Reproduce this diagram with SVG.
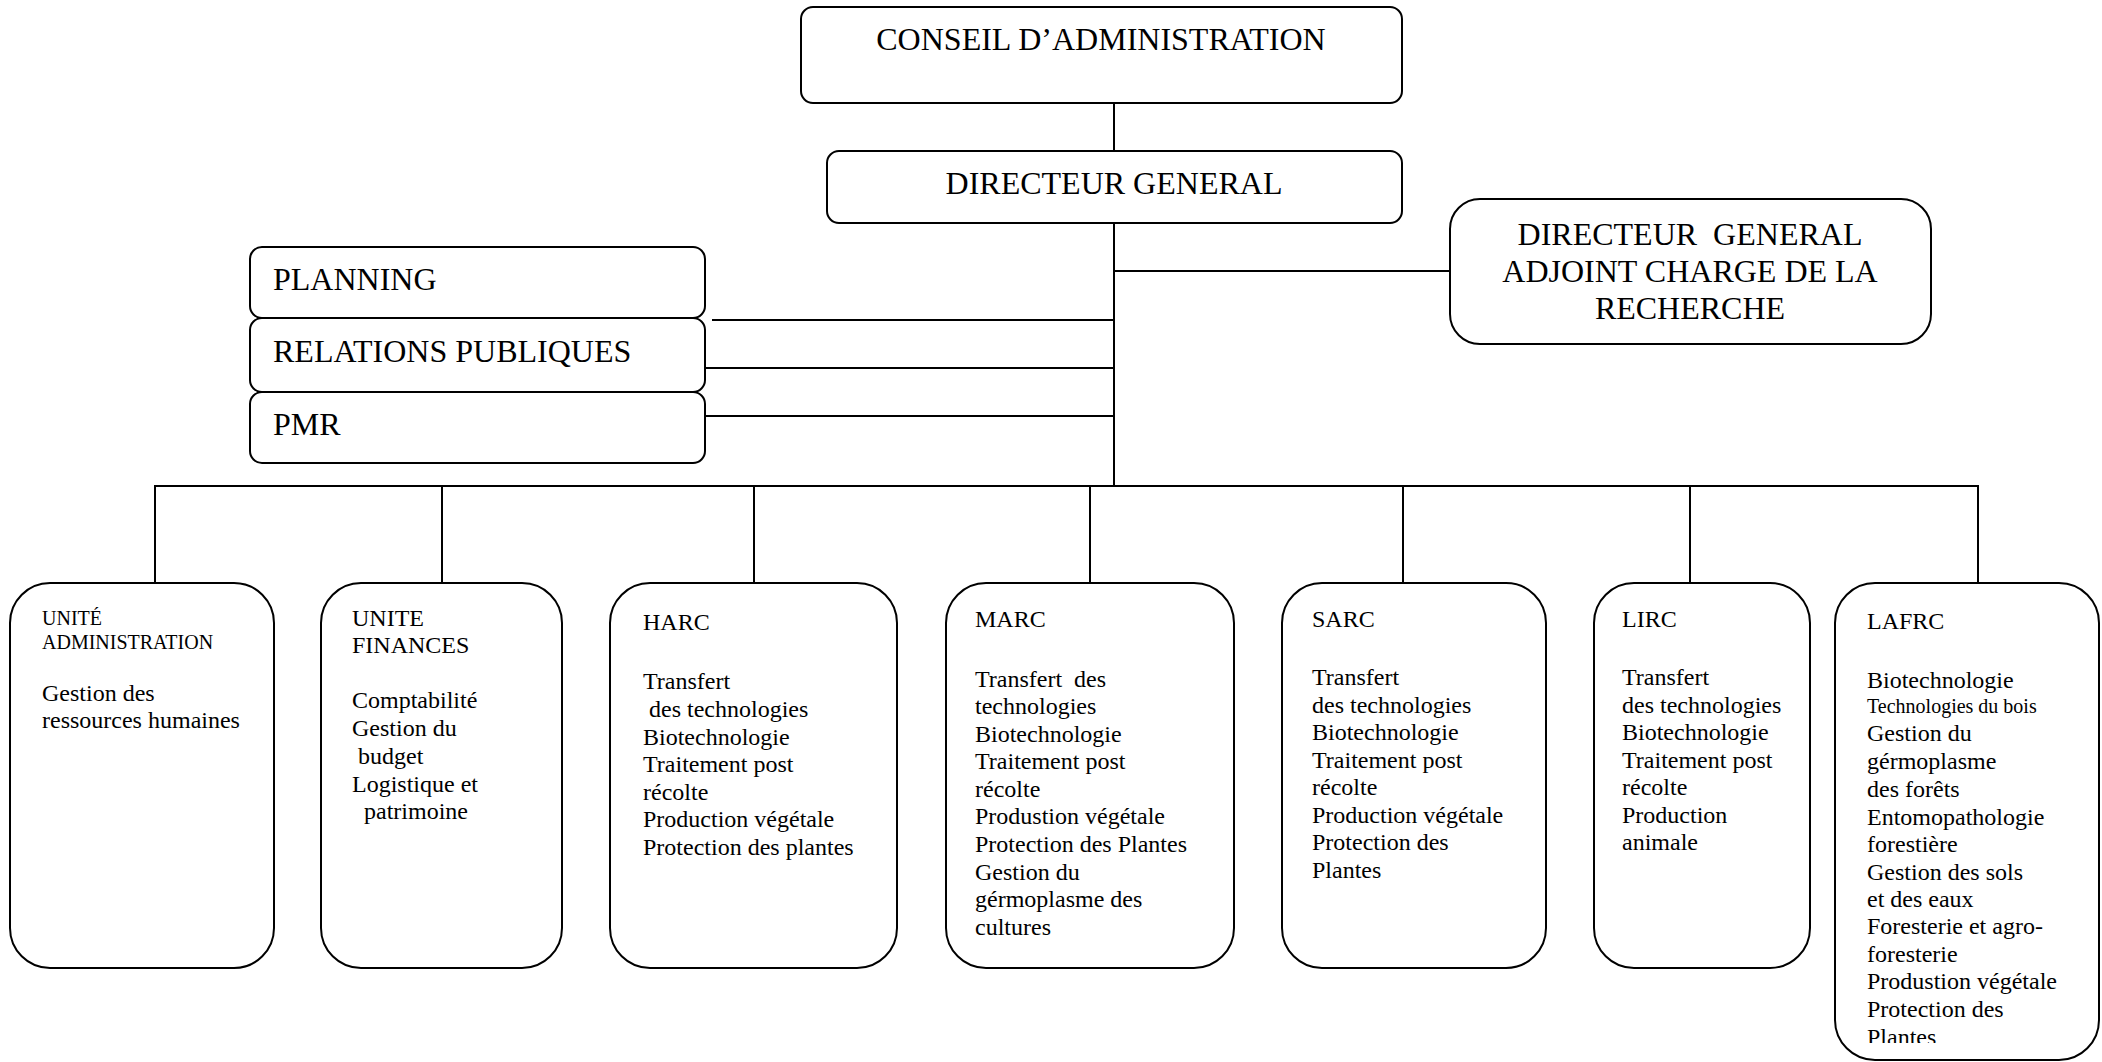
<svg xmlns="http://www.w3.org/2000/svg" width="2102" height="1062" viewBox="0 0 2102 1062">
<style>
.box{fill:#fff;stroke:#000;stroke-width:2}
.ln{stroke:#000;stroke-width:2;fill:none}
text{font-family:"Liberation Serif","Times New Roman",serif;fill:#000;white-space:pre}
.t32{font-size:32px}
.t24{font-size:24px}
.t20{font-size:20px}
</style>
<defs>
<clipPath id="lafrcClip"><rect x="1835" y="583" width="264" height="460"/></clipPath>
</defs>
<rect width="2102" height="1062" fill="#fff"/>
<g id="connectors">
<line class="ln" x1="1114" y1="103" x2="1114" y2="151"/>
<line class="ln" x1="1114" y1="223" x2="1114" y2="487"/>
<line class="ln" x1="1114" y1="271" x2="1450" y2="271"/>
<line class="ln" x1="712" y1="320" x2="1114" y2="320"/>
<line class="ln" x1="705" y1="368" x2="1114" y2="368"/>
<line class="ln" x1="705" y1="416" x2="1114" y2="416"/>
<line class="ln" x1="154" y1="486" x2="1979" y2="486"/>
<line class="ln" x1="155" y1="486" x2="155" y2="583"/>
<line class="ln" x1="442" y1="486" x2="442" y2="583"/>
<line class="ln" x1="754" y1="486" x2="754" y2="583"/>
<line class="ln" x1="1090" y1="486" x2="1090" y2="583"/>
<line class="ln" x1="1403" y1="486" x2="1403" y2="583"/>
<line class="ln" x1="1690" y1="486" x2="1690" y2="583"/>
<line class="ln" x1="1978" y1="486" x2="1978" y2="583"/>
</g>
<g id="conseil">
<rect class="box" x="801" y="7" width="601" height="96" rx="12"/>
<text class="t32" x="1101" y="50" text-anchor="middle">CONSEIL D’ADMINISTRATION</text>
</g>
<g id="dg">
<rect class="box" x="827" y="151" width="575" height="72" rx="12"/>
<text class="t32" x="1114" y="194" text-anchor="middle">DIRECTEUR GENERAL</text>
</g>
<g id="dga">
<rect class="box" x="1450" y="199" width="481" height="145" rx="30"/>
<text class="t32" text-anchor="middle"><tspan x="1690" y="245">DIRECTEUR  GENERAL</tspan><tspan x="1690" y="282">ADJOINT CHARGE DE LA</tspan><tspan x="1690" y="319">RECHERCHE</tspan></text>
</g>
<g id="planning">
<rect class="box" x="250" y="247" width="455" height="71" rx="12"/>
<text class="t32" x="273" y="290">PLANNING</text>
</g>
<g id="relations">
<rect class="box" x="250" y="318" width="455" height="74" rx="12"/>
<text class="t32" x="273" y="362">RELATIONS PUBLIQUES</text>
</g>
<g id="pmr">
<rect class="box" x="250" y="392" width="455" height="71" rx="12"/>
<text class="t32" x="273" y="435">PMR</text>
</g>
<g id="ua">
<rect class="box" x="10" y="583" width="264" height="385" rx="40"/>
<text class="t20"><tspan x="42" y="625">UNITÉ</tspan><tspan x="42" y="649">ADMINISTRATION</tspan></text>
<text class="t24"><tspan x="42" y="701">Gestion des</tspan><tspan x="42" y="728">ressources humaines</tspan></text>
</g>
<g id="uf">
<rect class="box" x="321" y="583" width="241" height="385" rx="40"/>
<text class="t24"><tspan x="352" y="626">UNITE</tspan><tspan x="352" y="653">FINANCES</tspan><tspan x="352" y="708">Comptabilité</tspan><tspan x="352" y="736">Gestion du</tspan><tspan x="352" y="764"> budget</tspan><tspan x="352" y="792">Logistique et</tspan><tspan x="352" y="819">  patrimoine</tspan></text>
</g>
<g id="harc">
<rect class="box" x="610" y="583" width="287" height="385" rx="40"/>
<text class="t24"><tspan x="643" y="630">HARC</tspan><tspan x="643" y="689">Transfert</tspan><tspan x="643" y="717"> des technologies</tspan><tspan x="643" y="745">Biotechnologie</tspan><tspan x="643" y="772">Traitement post</tspan><tspan x="643" y="800">récolte</tspan><tspan x="643" y="827">Production végétale</tspan><tspan x="643" y="855">Protection des plantes</tspan></text>
</g>
<g id="marc">
<rect class="box" x="946" y="583" width="288" height="385" rx="40"/>
<text class="t24"><tspan x="975" y="627">MARC</tspan><tspan x="975" y="687">Transfert  des</tspan><tspan x="975" y="714">technologies</tspan><tspan x="975" y="742">Biotechnologie</tspan><tspan x="975" y="769">Traitement post</tspan><tspan x="975" y="797">récolte</tspan><tspan x="975" y="824">Produstion végétale</tspan><tspan x="975" y="852">Protection des Plantes</tspan><tspan x="975" y="880">Gestion du</tspan><tspan x="975" y="907">gérmoplasme des</tspan><tspan x="975" y="935">cultures</tspan></text>
</g>
<g id="sarc">
<rect class="box" x="1282" y="583" width="264" height="385" rx="40"/>
<text class="t24"><tspan x="1312" y="627">SARC</tspan><tspan x="1312" y="685">Transfert</tspan><tspan x="1312" y="713">des technologies</tspan><tspan x="1312" y="740">Biotechnologie</tspan><tspan x="1312" y="768">Traitement post</tspan><tspan x="1312" y="795">récolte</tspan><tspan x="1312" y="823">Production végétale</tspan><tspan x="1312" y="850">Protection des</tspan><tspan x="1312" y="878">Plantes</tspan></text>
</g>
<g id="lirc">
<rect class="box" x="1594" y="583" width="216" height="385" rx="40"/>
<text class="t24"><tspan x="1622" y="627">LIRC</tspan><tspan x="1622" y="685">Transfert</tspan><tspan x="1622" y="713">des technologies</tspan><tspan x="1622" y="740">Biotechnologie</tspan><tspan x="1622" y="768">Traitement post</tspan><tspan x="1622" y="795">récolte</tspan><tspan x="1622" y="823">Production</tspan><tspan x="1622" y="850">animale</tspan></text>
</g>
<g id="lafrc">
<rect class="box" x="1835" y="583" width="264" height="477" rx="40"/>
<g clip-path="url(#lafrcClip)">
<text class="t24"><tspan x="1867" y="629">LAFRC</tspan><tspan x="1867" y="688">Biotechnologie</tspan></text>
<text class="t20" x="1867" y="713">Technologies du bois</text>
<text class="t24"><tspan x="1867" y="741">Gestion du</tspan><tspan x="1867" y="769">gérmoplasme</tspan><tspan x="1867" y="797">des forêts</tspan><tspan x="1867" y="825">Entomopathologie</tspan><tspan x="1867" y="852">forestière</tspan><tspan x="1867" y="880">Gestion des sols</tspan><tspan x="1867" y="907">et des eaux</tspan><tspan x="1867" y="934">Foresterie et agro-</tspan><tspan x="1867" y="962">foresterie</tspan><tspan x="1867" y="989">Produstion végétale</tspan><tspan x="1867" y="1017">Protection des</tspan><tspan x="1867" y="1045">Plantes</tspan></text>
</g>
</g>
</svg>
